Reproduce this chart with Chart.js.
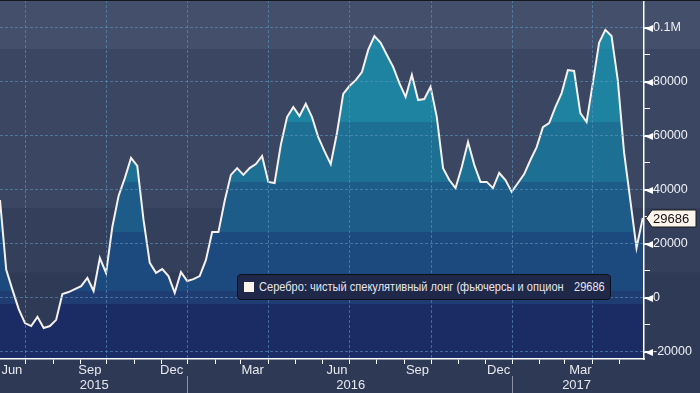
<!DOCTYPE html>
<html>
<head>
<meta charset="utf-8">
<script src="https://cdn.jsdelivr.net/npm/chart.js@4/dist/chart.umd.min.js"></script>
<style>
  html, body { margin: 0; padding: 0; background: #2e3955; }
  #wrap { position: relative; width: 700px; height: 393px; overflow: hidden; }
  canvas { display: block; }
  #legend {
    position: absolute; left: 237px; top: 274px; width: 374px; height: 26px;
    box-sizing: border-box; border: 1.5px solid #0c101a; border-radius: 4px;
    background: #1f2848; color: #e4e6ee;
    font: 13px "Liberation Sans", Arial, sans-serif; white-space: pre;
  }
  #legend .sw { position: absolute; left: 6px; top: 7px; width: 10px; height: 10px; background: #fbf3ec; }
  #legend .tx, #legend .val { position: absolute; top: 3px; line-height: 17px; transform: scaleX(0.85); transform-origin: 0 0; }
  #legend .tx { left: 21px; }
  #legend .val { left: 336px; }
</style>
</head>
<body>
<div id="wrap">
  <canvas id="c" width="700" height="393"></canvas>
  <div id="legend"><span class="sw"></span><span class="tx" id="legendText"></span><span class="val" id="legendVal"></span></div>
</div>
<script>
// ---------- data ----------
const seriesName = 'Серебро: чистый спекулятивный лонг (фьючерсы и опцион';
// weekly net speculative long (contracts), Jun 2015 .. May 2017
const netLong = [
  36300, 10400, 3000, -4100, -9300, -10400, -7000, -11100, -10400, -8100,
  1500, 2200, 3300, 4400, 7400, 2600, 14800, 9300, 26300, 37800,
  44400, 51900, 48900, 28900, 13000, 9300, 10700, 8100, 1900, 9600,
  6300, 7000, 8100, 14100, 24400, 24400, 35900, 45600, 48100, 45600,
  48100, 49600, 52600, 43000, 42600, 56700, 67000, 70700, 67400, 71900,
  67000, 59600, 54400, 49600, 61100, 75600, 78500, 80700, 83700, 91900,
  97000, 94500, 90000, 85600, 79600, 74500, 82600, 73300, 73700, 78200,
  67000, 48100, 43700, 40700, 48500, 57800, 49300, 43000, 43000, 40700,
  46300, 43700, 39300, 42600, 45900, 51100, 55900, 63300, 64800, 70700,
  75900, 84400, 84100, 68500, 65200, 79600, 94500, 99300, 97000, 80700,
  54000, 36300, 18500, 29686
];
const weekIndex = netLong.map((_, i) => i);

// x axis (in week units from first observation)
const monthStarts = [4.1, 8.5, 12.9, 17.1, 21.5, 25.8, 30.0, 34.5, 38.6, 43.0, 47.3, 51.7,
                     56.0, 60.4, 64.9, 69.1, 73.5, 77.8, 82.1, 86.5, 90.5, 95.0, 99.3];
const quarterStarts = [4.1, 17.1, 30.0, 43.0, 56.0, 69.1, 82.1, 95.0];
const monthLabelPos = [1.9, 14.4, 27.5, 40.5, 54.0, 66.9, 79.9, 93.0];
const monthLabels = ['Jun', 'Sep', 'Dec', 'Mar', 'Jun', 'Sep', 'Dec', 'Mar'];
const yearLabelPos = [15.1, 56.2, 92.4];
const yearLabels = ['2015', '2016', '2017'];
const yearStarts = [30.0, 82.1];

// y axis
const yTicks = [-20000, -10000, 0, 10000, 20000, 30000, 40000, 50000, 60000, 70000, 80000, 90000, 100000];
const yLabeled = [-20000, 0, 20000, 40000, 60000, 80000, 100000];
const yLabelText = ['-20000', '0', '20000', '40000', '60000', '80000', '0.1M'];

// value bands (upper edges, descending)
const fillBandEdges = [92200, 65200, 43000, 24400, 2600, -2200];
const bgBandEdges = [92200, 33300, 9300];

// ---------- styles ----------
const fillBandColors = ['#2189a6', '#1e83a1', '#1e6f94', '#1d5b89', '#1c4a7e', '#1f3d72', '#1b2b63'];
const bgBandColors = ['#434f6b', '#3a4662', '#343f5b', '#2f3a56'];
const gridColor = 'rgba(92,150,190,0.6)';
const FONT = '"Liberation Sans", Arial, sans-serif';
const FSIZE = 12.5;
const X_MIN = 0, X_MAX = 103.2, Y_MIN = -22600, Y_MAX = 110370;

const lastValue = netLong[netLong.length - 1];
document.getElementById('legendText').textContent = seriesName;
document.getElementById('legendVal').textContent = String(lastValue);

function noPad(s) { s.paddingTop = 0; s.paddingBottom = 0; s.paddingLeft = 0; s.paddingRight = 0; }

function fillGradient(context) {
  const chart = context.chart;
  const area = chart.chartArea;
  const ys = chart.scales.y;
  if (!area || !ys) return fillBandColors[2];
  const g = chart.ctx.createLinearGradient(0, area.top, 0, area.bottom);
  const h = area.bottom - area.top;
  let prev = 0;
  g.addColorStop(0, fillBandColors[0]);
  fillBandEdges.forEach((v, i) => {
    let t = (ys.getPixelForValue(v) - area.top) / h;
    t = Math.min(1, Math.max(prev, t));
    g.addColorStop(t, fillBandColors[i]);
    g.addColorStop(Math.min(1, t + 0.0001), fillBandColors[i + 1]);
    prev = Math.min(1, t + 0.0001);
  });
  g.addColorStop(1, fillBandColors[fillBandColors.length - 1]);
  return g;
}

const bandsPlugin = {
  id: 'bands',
  beforeDraw(chart) {
    const { ctx, chartArea: a, scales: { y } } = chart;
    ctx.save();
    ctx.fillStyle = '#2e3955';
    ctx.fillRect(0, 0, chart.width, chart.height);
    let top = a.top;
    bgBandEdges.concat([Y_MIN]).forEach((v, i) => {
      const yb = Math.min(a.bottom, Math.max(a.top, y.getPixelForValue(v)));
      const bottom = (i === bgBandEdges.length) ? a.bottom : yb;
      ctx.fillStyle = bgBandColors[i];
      ctx.fillRect(0, top, chart.width, bottom - top);
      top = bottom;
    });
    ctx.restore();
  },
  afterDraw(chart) {
    const { ctx, chartArea: a, scales } = chart;
    const y = scales.y, xy = scales.xy;
    ctx.save();
    // top edge
    ctx.fillStyle = '#15181f';
    ctx.fillRect(0, 0, chart.width, 1);
    // arrow tick marks at labeled y values
    ctx.fillStyle = '#ffffff';
    yLabeled.forEach(v => {
      const py = Math.round(y.getPixelForValue(v)) + 0.5;
      ctx.beginPath();
      ctx.moveTo(a.right + 1, py);
      ctx.lineTo(a.right + 9, py - 3.5);
      ctx.lineTo(a.right + 9, py + 3.5);
      ctx.closePath();
      ctx.fill();
      ctx.fillRect(a.right, py - 0.5, 9, 1);
    });
    // year separators
    ctx.strokeStyle = '#8a91a3';
    ctx.lineWidth = 1;
    yearStarts.forEach(v => {
      const px = Math.round(xy.getPixelForValue(v)) + 0.5;
      ctx.beginPath();
      ctx.moveTo(px, xy.top);
      ctx.lineTo(px, xy.bottom);
      ctx.stroke();
    });
    // last value tag
    const ty = Math.round(y.getPixelForValue(lastValue)) + 0.5;
    const x0 = a.right + 2, x1 = x0 + 6, x2 = chart.width - 4;
    ctx.beginPath();
    ctx.moveTo(x0, ty);
    ctx.lineTo(x1, ty - 8.5);
    ctx.lineTo(x2, ty - 8.5);
    ctx.lineTo(x2, ty + 8.5);
    ctx.lineTo(x1, ty + 8.5);
    ctx.closePath();
    ctx.fillStyle = '#fdf4ec';
    ctx.fill();
    ctx.strokeStyle = '#1a1a1a';
    ctx.stroke();
    ctx.fillStyle = '#111111';
    ctx.font = '13px ' + FONT;
    ctx.textBaseline = 'middle';
    ctx.textAlign = 'left';
    ctx.fillText(String(lastValue), x1 + 1, ty + 0.5);
    ctx.restore();
  }
};

new Chart(document.getElementById('c'), {
  type: 'line',
  data: {
    datasets: [{
      data: weekIndex.map((w, i) => ({ x: w, y: netLong[i] })),
      borderColor: '#f6f1ec',
      borderWidth: 2,
      pointRadius: 0,
      tension: 0,
      fill: 'start',
      backgroundColor: fillGradient,
      xAxisID: 'x',
      yAxisID: 'y'
    }]
  },
  options: {
    responsive: false,
    animation: false,
    devicePixelRatio: 1,
    layout: { padding: 0 },
    plugins: { legend: { display: false }, tooltip: { enabled: false } },
    scales: {
      x: {
        type: 'linear', position: 'bottom', min: X_MIN, max: X_MAX, weight: 0,
        afterBuildTicks: s => { s.ticks = monthStarts.map(v => ({ value: v })); },
        afterFit: s => { s.height = 0; noPad(s); },
        ticks: { display: false },
        grid: {
          z: 1,
          color: c => (c.tick && quarterStarts.includes(c.tick.value)) ? gridColor : 'rgba(0,0,0,0)',
          tickColor: '#ffffff', tickLength: 5, lineWidth: 1
        },
        border: { display: true, color: '#ffffff', width: 1.5, dash: [3, 2], z: 1 }
      },
      xm: {
        type: 'linear', position: 'bottom', min: X_MIN, max: X_MAX, weight: 1,
        afterBuildTicks: s => { s.ticks = monthLabelPos.map(v => ({ value: v })); },
        afterFit: s => { s.height = 17; noPad(s); },
        ticks: {
          callback: (v, i) => monthLabels[i], color: '#e8e9ee', padding: 4,
          font: { family: FONT, size: 13 }, maxRotation: 0, autoSkip: false
        },
        grid: { display: false, drawTicks: false },
        border: { display: false }
      },
      xy: {
        type: 'linear', position: 'bottom', min: X_MIN, max: X_MAX, weight: 2,
        afterBuildTicks: s => { s.ticks = yearLabelPos.map(v => ({ value: v })); },
        afterFit: s => { s.height = 17; noPad(s); },
        ticks: {
          callback: (v, i) => yearLabels[i], color: '#e8e9ee', padding: 2,
          font: { family: FONT, size: 13 }, maxRotation: 0, autoSkip: false
        },
        grid: { display: false, drawTicks: false },
        border: { display: false }
      },
      y: {
        type: 'linear', position: 'right', min: Y_MIN, max: Y_MAX,
        afterBuildTicks: s => { s.ticks = yTicks.map(v => ({ value: v })); },
        afterFit: s => { s.width = 56; noPad(s); },
        ticks: {
          callback: v => { const k = yLabeled.indexOf(v); return k >= 0 ? yLabelText[k] : ''; },
          color: '#eef0f4', padding: 3, font: { family: FONT, size: FSIZE }
        },
        grid: {
          z: 1,
          color: c => (c.tick && yLabeled.includes(c.tick.value)) ? gridColor : 'rgba(0,0,0,0)',
          tickColor: '#ffffff', tickLength: 6, lineWidth: 1
        },
        border: { display: true, color: '#ffffff', width: 1.5, dash: [3, 2], z: 1 }
      }
    }
  },
  plugins: [bandsPlugin]
});
</script>
</body>
</html>
